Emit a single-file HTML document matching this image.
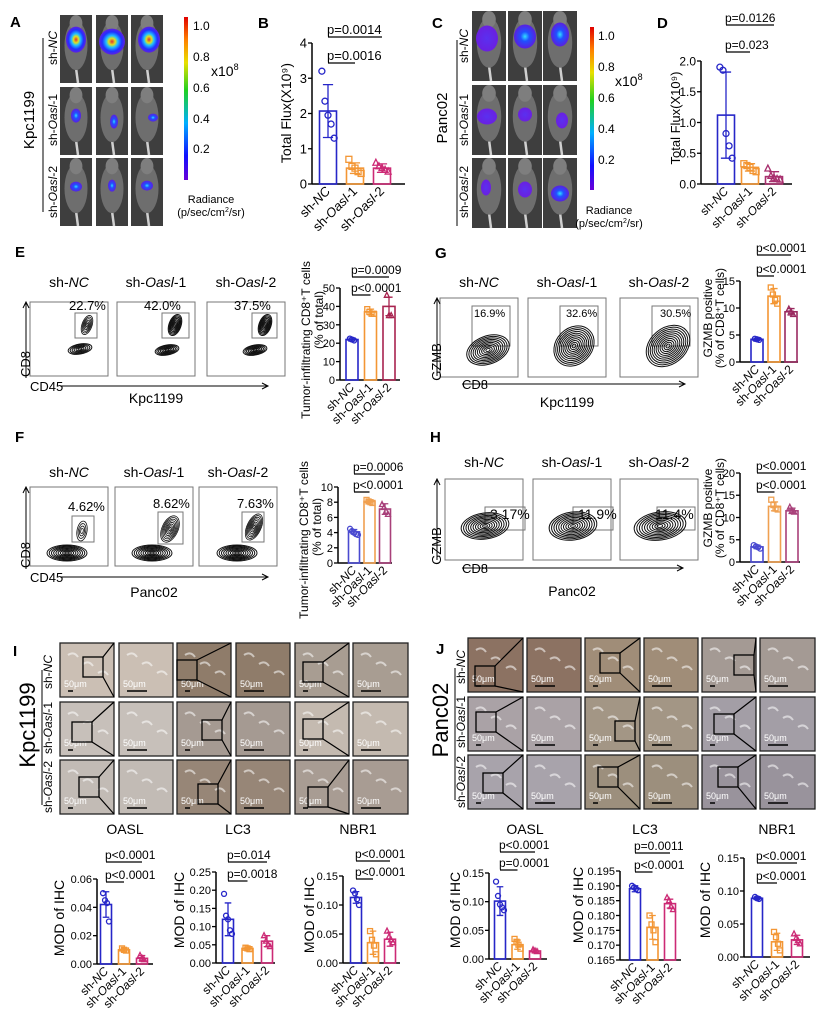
<!DOCTYPE html>
<html><head><meta charset="utf-8">
<style>
html,body{margin:0;padding:0;background:#fff;}
svg{display:block;font-family:"Liberation Sans",Arial,sans-serif;}
</style></head>
<body>
<svg id="fig" width="825" height="1016" viewBox="0 0 825 1016" xmlns="http://www.w3.org/2000/svg">
<defs>
<linearGradient id="cbar" x1="0" y1="1" x2="0" y2="0">
<stop offset="0" stop-color="#6a00d8"/><stop offset="0.15" stop-color="#1010ff"/><stop offset="0.35" stop-color="#00b0ff"/><stop offset="0.55" stop-color="#20d020"/><stop offset="0.72" stop-color="#e8e000"/><stop offset="0.86" stop-color="#ff8000"/><stop offset="1" stop-color="#e00000"/>
</linearGradient>
<radialGradient id="blobA"><stop offset="0" stop-color="#e03030"/><stop offset="0.25" stop-color="#e0e020"/><stop offset="0.45" stop-color="#20c0ff"/><stop offset="0.75" stop-color="#2030ff"/><stop offset="1" stop-color="#6020e0"/></radialGradient>
<radialGradient id="blobB"><stop offset="0" stop-color="#30e0ff"/><stop offset="0.4" stop-color="#2050ff"/><stop offset="1" stop-color="#5a20e0"/></radialGradient>
<radialGradient id="blobC"><stop offset="0" stop-color="#5a30f0"/><stop offset="1" stop-color="#6a20e0"/></radialGradient>
</defs>
<g id="root"></g>
</svg>
<script>
// ---------- chart data ----------
const groups = ["sh-NC","sh-Oasl-1","sh-Oasl-2"];
const bMeans=[2.07,0.45,0.45], bSD=[0.75,0.15,0.12], bPts=[[3.2,2.35,1.95,1.7,1.3],[0.7,0.5,0.45,0.35,0.3],[0.6,0.5,0.45,0.4,0.35]];
const bTicks=[0,1,2,3,4], bTickLabels=["0","1","2","3","4"], bP=["p=0.0016","p=0.0014"];
const dMeans=[1.12,0.27,0.12], dSD=[0.7,0.06,0.08], dPts=[[1.9,1.85,0.82,0.62,0.42],[0.33,0.3,0.27,0.22,0.2],[0.25,0.13,0.1,0.08,0.07]];
const dTicks=[0,0.5,1,1.5,2], dTickLabels=["0.0","0.5","1.0","1.5","2.0"], dP=["p=0.023","p=0.0126"];
const eMeans=[22,37,40], eSD=[0.8,1.5,5], ePts=[[22.5,22,21.5],[38.5,37,36,36],[46,35,35]];
const eTicks=[0,10,20,30,40,50], eTickLabels=["0","10","20","30","40","50"], eP=["p<0.0001","p=0.0009"];
const gMeans=[4.2,12.2,9.3], gSD=[0.2,1.4,0.6], gPts=[[4.3,4.2,4.1],[13.8,12.5,11.5,10.8],[9.8,9.3,8.8]];
const gTicks=[0,5,10,15], gTickLabels=["0","5","10","15"], gP=["p<0.0001","p<0.0001"];
const fMeans=[4.1,8.1,7.1], fSD=[0.3,0.2,0.7], fPts=[[4.5,4.2,4,3.8,3.7],[8.3,8.1,8,7.9],[7.7,7.3,6.8,6.4]];
const fTicks=[0,2,4,6,8,10], fTickLabels=["0","2","4","6","8","10"], fP=["p<0.0001","p=0.0006"];
const hMeans=[3.4,12.5,11.5], hSD=[0.4,1.0,0.6], hPts=[[3.8,3.5,3.3,3],[14,12.8,12,11.8],[12.3,11.5,11.2]];
const hTicks=[0,5,10,15,20], hTickLabels=["0","5","10","15","20"], hP=["p<0.0001","p<0.0001"];
const i1Means=[0.042,0.010,0.004], i1SD=[0.009,0.001,0.002], i1Pts=[[0.05,0.045,0.043,0.03],[0.011,0.01,0.0095],[0.006,0.004,0.003]];
const i1Ticks=[0,0.02,0.04,0.06], i1TickLabels=["0.00","0.02","0.04","0.06"], i1P=["p<0.0001","p<0.0001"];
const i2Means=[0.12,0.04,0.06], i2SD=[0.045,0.003,0.015], i2Pts=[[0.19,0.13,0.12,0.09,0.08],[0.042,0.04,0.038],[0.075,0.06,0.05,0.045]];
const i2Ticks=[0,0.05,0.1,0.15,0.2,0.25], i2TickLabels=["0.00","0.05","0.10","0.15","0.20","0.25"], i2P=["p=0.0018","p=0.014"];
const i3Means=[0.113,0.035,0.041], i3SD=[0.01,0.02,0.012], i3Pts=[[0.125,0.12,0.11,0.1],[0.055,0.04,0.03,0.015],[0.055,0.045,0.04,0.035]];
const i3Ticks=[0,0.05,0.1,0.15], i3TickLabels=["0.00","0.05","0.10","0.15"], i3P=["p<0.0001","p<0.0001"];
const j1Means=[0.101,0.025,0.014], j1SD=[0.025,0.008,0.003], j1Pts=[[0.135,0.11,0.095,0.09,0.085],[0.035,0.03,0.025,0.018],[0.016,0.014,0.013]];
const j1Ticks=[0,0.05,0.1,0.15], j1TickLabels=["0.00","0.05","0.10","0.15"], j1P=["p=0.0001","p<0.0001"];
const j2Means=[0.189,0.176,0.184], j2SD=[0.001,0.004,0.0015], j2Pts=[[0.190,0.1895,0.189,0.1885],[0.180,0.177,0.175,0.171],[0.186,0.185,0.183,0.182]];
const j2Ticks=[0.165,0.17,0.175,0.18,0.185,0.19,0.195], j2TickLabels=["0.165","0.170","0.175","0.180","0.185","0.190","0.195"], j2P=["p<0.0001","p=0.0011"];
const j3Means=[0.089,0.023,0.026], j3SD=[0.002,0.013,0.007], j3Pts=[[0.091,0.089,0.088],[0.038,0.03,0.02,0.01],[0.035,0.028,0.025,0.02]];
const j3Ticks=[0,0.05,0.1,0.15], j3TickLabels=["0.00","0.05","0.10","0.15"], j3P=["p<0.0001","p<0.0001"];
const flowPctE=["22.7%","42.0%","37.5%"], flowPctG=["16.9%","32.6%","30.5%"], flowPctF=["4.62%","8.62%","7.63%"], flowPctH=["3.17%","11.9%","11.4%"];

const NS="http://www.w3.org/2000/svg";
const root=document.getElementById('root');
function mk(tag,attrs,parent){const e=document.createElementNS(NS,tag);for(const k in attrs)e.setAttribute(k,attrs[k]);(parent||root).appendChild(e);return e;}
function txt(x,y,s,size,opts,parent){opts=opts||{};const e=mk('text',{x:x,y:y,'font-size':size,'text-anchor':opts.anchor||'start',fill:opts.fill||'#000','font-weight':opts.bold?'bold':'normal'},parent);if(opts.rot!==undefined)e.setAttribute('transform','rotate('+opts.rot+' '+x+' '+y+')');e.textContent=s;return e;}
function groupLabel(x,y,name,size,rot,parent){
  const e=mk('text',{x:x,y:y,'font-size':size,'text-anchor':'end',transform:'rotate('+rot+' '+x+' '+y+')'},parent);
  const m=name.match(/^sh-(NC|Oasl)(.*)$/);
  const a=document.createElementNS(NS,'tspan');a.textContent='sh-';e.appendChild(a);
  const b=document.createElementNS(NS,'tspan');b.setAttribute('font-style','italic');b.textContent=m[1];e.appendChild(b);
  if(m[2]){const c=document.createElementNS(NS,'tspan');c.textContent=m[2];e.appendChild(c);}
  return e;
}
const COLS=["#2626c8","#f39634","#cc2a75"];

function barChart(id,c,means,sd,pts,ticks,tickLabels,pLabels){
  const g=mk('g',{});
  
  
  const min=c.min||0,max=ticks[ticks.length-1];
  const Y=v=>c.y0-(v-min)/(max-min)*(c.y0-c.yTop);
  const X=i=>c.ax+c.off+i*c.step;
  const yax=mk('line',{x1:c.ax,y1:c.y0,x2:c.ax,y2:c.yTop,stroke:'#000','stroke-width':1.5},g);
  
  
  const xax=mk('line',{x1:c.ax,y1:c.y0,x2:c.xEnd,y2:c.y0,stroke:'#000','stroke-width':1.5},g);
  
  
  ticks.forEach((t,k)=>{
    const tl=mk('line',{x1:c.ax-4,y1:Y(t),x2:c.ax,y2:Y(t),stroke:'#000','stroke-width':1.3},g);
    
    
    const lb=txt(c.ax-5,Y(t)+c.fs*0.36,tickLabels[k],c.fs,{anchor:'end'},g);
    
    
  });
  means.forEach((m,i)=>{
    const col=c.cols?c.cols[i]:COLS[i];
    const x=X(i);
    const bar=mk('rect',{x:x-c.bw/2,y:Y(m),width:c.bw,height:c.y0-Y(m),fill:'none',stroke:col,'stroke-width':1.6},g);
    
    
    const hi=Y(m+sd[i]),lo=Y(Math.max(min,m-sd[i]));
    const eb=mk('path',{d:'M'+x+' '+hi+'V'+lo+'M'+(x-c.bw*0.3)+' '+hi+'H'+(x+c.bw*0.3)+'M'+(x-c.bw*0.3)+' '+lo+'H'+(x+c.bw*0.3),stroke:col,'stroke-width':1.3,fill:'none'},g);
    
    
    const n=pts[i].length;
    pts[i].forEach((v,k)=>{
      const px=x+(k-(n-1)/2)*c.bw*0.18, py=Y(v);
      let p;
      if(i===0)p=mk('circle',{cx:px,cy:py,r:c.mr,fill:'none',stroke:col,'stroke-width':1.3},g);
      else if(i===1)p=mk('rect',{x:px-c.mr,y:py-c.mr,width:2*c.mr,height:2*c.mr,fill:'none',stroke:col,'stroke-width':1.3},g);
      else p=mk('path',{d:'M'+px+' '+(py-c.mr*1.2)+'L'+(px+c.mr)+' '+(py+c.mr*0.8)+'L'+(px-c.mr)+' '+(py+c.mr*0.8)+'Z',fill:'none',stroke:col,'stroke-width':1.3},g);
      
      
    });
    const gl=groupLabel(x+3,c.y0+8,groups[i],c.xfs||c.fs,-45,g);
    
    
  });
  [[1,c.p1],[2,c.p2]].forEach(([j,yy],k)=>{
    const x1=X(0),x2=X(j);
    const l=mk('line',{x1:x1,y1:yy,x2:x2,y2:yy,stroke:'#000','stroke-width':1.3},g);
    
    
    const t=txt(x1-1,yy-3,pLabels[k],c.pfs||c.fs,{},g);
    
    
  });
  c.titles.forEach(tt=>{
    const t=txt(tt[0],tt[1],tt[2],tt[3],{anchor:'middle',rot:-90},g);
    
    
  });
}

[["A",10,27],["B",258,28],["C",432,28],["D",657,28],["E",15,257],["G",435,258],["F",15,442],["H",430,442],["I",13,656],["J",436,654]].forEach(p=>{
  const t=txt(p[1],p[2],p[0],15,{bold:true});
  
  
});

function mouseTile(x,y,w,h,blob,bw,bh,dx,dy){
  const g=mk('g',{});
  
  
  mk('rect',{x:x,y:y,width:w,height:h,fill:'#3e3e3e'},g);
  mk('line',{x1:x+w/2,y1:y+h*0.78,x2:x+w/2+2,y2:y+h,stroke:'#d0d0d0','stroke-width':2.5},g);
  mk('ellipse',{cx:x+w/2,cy:y+h*0.45,rx:w*0.36,ry:h*0.36,fill:'#6e6e6e'},g);
  mk('ellipse',{cx:x+w/2,cy:y+h*0.12,rx:w*0.2,ry:h*0.12,fill:'#7e7e7e'},g);
  mk('ellipse',{cx:x+w/2+dx,cy:y+h*0.45+dy,rx:bw,ry:bh,fill:'url(#'+blob+')'},g);
}
const aCols=[60,96,131], aRows=[15,87,158];
const aBlobs=[["blobA",10,13,0,-6],["blobA",13,13,0,-4],["blobA",11,13,2,-6],["blobB",5,7,0,-2],["blobB",4,7,2,4],["blobB",5,4,6,0],["blobB",6,5,0,-2],["blobB",4,6,0,-3],["blobB",6,5,0,-3]];
aRows.forEach((ry,r)=>aCols.forEach((cx,cc)=>{const b=aBlobs[r*3+cc];mouseTile(cx,ry,32,68,b[0],b[1],b[2],b[3],b[4]);}));
const cCols=[472,508,543], cRows=[11,85,158];
const cBlobs=[["blobC",11,13,-2,-4],["blobB",11,12,0,-6],["blobB",9,12,0,-8],["blobC",10,8,-2,0],["blobC",7,7,0,-2],["blobC",6,8,2,4],["blobC",5,8,-3,-2],["blobC",7,8,0,0],["blobB",9,8,0,4]];
cRows.forEach((ry,r)=>cCols.forEach((cx,cc)=>{const b=cBlobs[r*3+cc];mouseTile(cx,ry,34,70,b[0],b[1],b[2],b[3],b[4]);}));

function sideLabels(bigX,bigY,big,bigSize,lineX,ly1,ly2,rowX,rowYs,prefix){
  const t=txt(bigX,bigY,big,bigSize,{anchor:'middle',rot:-90});
  
  
  const l=mk('line',{x1:lineX,y1:ly1,x2:lineX,y2:ly2,stroke:'#000','stroke-width':1});
  
  
  rowYs.forEach((ry,i)=>{
    const e=mk('text',{x:rowX,y:ry,'font-size':12,'text-anchor':'middle',transform:'rotate(-90 '+rowX+' '+ry+')'});
    const m=groups[i].match(/^sh-(NC|Oasl)(.*)$/);
    const a=document.createElementNS(NS,'tspan');a.textContent='sh-';e.appendChild(a);
    const b=document.createElementNS(NS,'tspan');b.setAttribute('font-style','italic');b.textContent=m[1];e.appendChild(b);
    if(m[2]){const c=document.createElementNS(NS,'tspan');c.textContent=m[2];e.appendChild(c);}
    
    
  });
}
sideLabels(34,120,"Kpc1199",15,43,38,212,57,[48,120,192],'a');
sideLabels(447,118,"Panc02",15,457,40,226,468,[46,120,192],'c');

function colorbar(x,y1,y2,labX,labYs,xlabX,xlabY,radX,radY,prefix){
  const r=mk('rect',{x:x,y:y1,width:4,height:y2-y1,fill:'url(#cbar)'});
  
  
  ["1.0","0.8","0.6","0.4","0.2"].forEach((s,i)=>{const t=txt(labX,labYs[i],s,12);});
  const xl=mk('text',{x:xlabX,y:xlabY,'font-size':14});
  xl.innerHTML='x10<tspan font-size="9" dy="-6">8</tspan>';
  
  
  const r1=txt(radX,radY,"Radiance",11,{anchor:'middle'});
  
  
  const r2=mk('text',{x:radX,y:radY+13,'font-size':11,'text-anchor':'middle'});
  r2.innerHTML='(p/sec/cm<tspan font-size="7" dy="-4">2</tspan><tspan dy="4">/sr)</tspan>';
  
  
}
colorbar(184,17,180,193,[30,61,92,123,153],211,76,211,203,'a');
colorbar(590,27,190,598,[40,71,102,133,164],615,86,609,214,'c');

function contours(g,cx,cy,rx,ry,rot,n,dense){
  for(let k=0;k<n;k++){const f=1-k/n;
    mk('ellipse',{cx:cx,cy:cy,rx:rx*f,ry:ry*f,fill:'none',stroke:'#111','stroke-width':dense?1.0:0.8,transform:'rotate('+rot+' '+cx+' '+cy+')'},g);}
}
function flowRow(prefix,boxes,y1,y2,titleY,pcts,gates,pops,xlab,xlabY,ylab,xlabAxis,arrowY,arrowX2,vx,vTop){
  boxes.forEach((b,i)=>{
    const g=mk('g',{});
    
    
    mk('rect',{x:b,y:y1,width:78,height:y2-y1,fill:'#fff',stroke:'#777','stroke-width':1},g);
    const t=mk('text',{x:b+39,y:titleY,'font-size':14,'text-anchor':'middle'},g);
    const m=groups[i].match(/^sh-(NC|Oasl)(.*)$/);
    t.innerHTML='sh-<tspan font-style="italic">'+m[1]+'</tspan>'+(m[2]||'');
    const gt=gates[i];
    const gr=mk('rect',{x:b+gt[0],y:y1+gt[1],width:gt[2],height:gt[3],fill:'none',stroke:'#777','stroke-width':1},g);
    
    
    const pt=txt(b+gt[4],y1+gt[5],pcts[i],gt[6],{},g);
    
    
    pops[i].forEach(p=>contours(g,b+p[0],y1+p[1],p[2],p[3],p[4],p[5],p[6]));
  });
  const ax=mk('path',{d:'M'+vx+' '+(arrowY-8)+'V'+vTop+'M'+(vx-3)+' '+(vTop+6)+'L'+vx+' '+vTop+'L'+(vx+3)+' '+(vTop+6),stroke:'#000',fill:'none','stroke-width':1});
  
  
  const hx=mk('path',{d:'M'+(xlabAxis[1])+' '+arrowY+'H'+arrowX2+'M'+(arrowX2-6)+' '+(arrowY-3)+'L'+arrowX2+' '+arrowY+'L'+(arrowX2-6)+' '+(arrowY+3),stroke:'#000',fill:'none','stroke-width':1});
  
  
  const yl=txt(vx+4,arrowY-22,ylab,13,{anchor:'middle',rot:-90});
  
  
  const xl=txt(xlabAxis[0],arrowY+5,xlabAxis[2],13,{});
  
  
  const cl=txt(boxes[1]+39,xlabY,xlab,14,{anchor:'middle'});
  
  
}
flowRow('e',[30,117,207],302,376,287,flowPctE,
  [[45,11,22,25,39,8,13],[45,11,27,25,27,8,13],[45,11,25,25,27,8,13]],
  [[[57,23,5,10,20,6],[50,47,12,5,-10,6,true]],[[58,23,6,11,20,8,true],[50,48,12,5,-10,7,true]],[[58,23,6,11,20,8,true],[48,48,12,5,-10,7,true]]],
  "Kpc1199",403,"CD8",[30,60,"CD45"],386,268,26,302);
flowRow('g',[440,528,620],298,377,287,flowPctG,
  [[32,8,38,40,34,19,11],[32,8,38,40,38,19,11],[32,8,38,40,40,19,11]],
  [[[48,52,22,14,-20,10,true]],[[46,48,22,18,-45,11,true]],[[48,48,24,18,-40,11,true]]],
  "Kpc1199",407,"GZMB",[462,462,"CD8"],384,685,437,298);
flowRow('f',[30,115,199],487,566,477,flowPctF,
  [[42,29,22,26,38,24,13],[43,25,25,32,38,21,13],[43,25,22,30,38,21,13]],
  [[[52,44,5,10,10,4],[37,66,20,8,0,9,true]],[[55,42,8,14,25,8],[37,66,20,8,0,9,true]],[[55,40,7,14,25,8],[38,66,20,8,0,9,true]]],
  "Panc02",597,"CD8",[30,60,"CD45"],577,268,26,487);
flowRow('h',[445,533,620],479,560,467,flowPctH,
  [[40,28,40,23,45,40,14],[40,28,40,23,45,40,14],[37,28,38,23,35,40,14]],
  [[[40,47,24,13,-8,10,true]],[[40,47,24,14,-8,10,true]],[[40,47,26,14,-8,10,true]]],
  "Panc02",596,"GZMB",[462,462,"CD8"],568,683,437,479);

function ihc(prefix,cols,rows,colors,insets){
  rows.forEach((ry,r)=>cols.forEach((cx,c)=>{
    const g=mk('g',{});
    
    
    const col=colors[r][Math.floor(c/2)];
    mk('rect',{x:cx[0],y:ry,width:cx[1]-cx[0],height:54,fill:col,stroke:'#222','stroke-width':1.3},g);
    for(let k=0;k<3;k++)mk('path',{d:'M'+(cx[0]+8+k*15)+' '+(ry+12+k*9)+'q6 -4 10 2',stroke:'rgba(255,255,255,0.55)','stroke-width':2,fill:'none'},g);
    txt(cx[0]+4,ry+44,"50μm",9,{fill:'#fff'},g);
    mk('line',{x1:cx[0]+8,y1:ry+48,x2:cx[0]+(c%2?28:13),y2:ry+48,stroke:'#000','stroke-width':1.5},g);
    if(c%2===0){const ins=insets[r][c/2];
      mk('rect',{x:cx[0]+ins[0],y:ry+ins[1],width:20,height:20,fill:'none',stroke:'#000','stroke-width':1.3},g);
      mk('path',{d:'M'+(cx[0]+ins[0]+20)+' '+(ry+ins[1])+'L'+cx[1]+' '+ry+'M'+(cx[0]+ins[0]+20)+' '+(ry+ins[1]+20)+'L'+cx[1]+' '+(ry+54),stroke:'#000','stroke-width':1.2},g);}
  }));
}
ihc('i',[[60,114],[119,173],[177,231],[236,290],[295,349],[353,408]],[643,702,760],
  [["#cbbfb4","#8f7c6a","#a89d92"],["#c7c0ba","#a59a92","#c4bab0"],["#c2bbb5","#978677","#a89c93"]],
  [[[23,14],[0,17],[8,19]],[[12,20],[25,18],[8,17]],[[19,17],[21,24],[13,27]]]);
ihc('j',[[468,523],[527,581],[585,640],[644,698],[702,756],[760,815]],[638,697,755],
  [["#8c7262","#a08d78","#a49a94"],["#aaa2a6","#a39685","#a39ea6"],["#a8a3ab","#9c8f7d","#99939c"]],
  [[[7,28],[15,15],[32,17]],[[8,15],[30,24],[12,17]],[[15,18],[13,12],[16,12]]]);
sideLabels(35,725,"Kpc1199",22,42,670,805,52,[672,728,787],'i');
sideLabels(448,720,"Panc02",22,455,668,800,465,[667,722,782],'j');
[["OASL",125],["LC3",238],["NBR1",358],["OASL",525],["LC3",645],["NBR1",777]].forEach(p=>{
  const t=txt(p[1],834,p[0],14,{anchor:'middle'});
  
  
});

barChart('chart-b',{ax:312,y0:184,yTop:43,off:16,step:27,bw:17,xEnd:405,fs:13,mr:3,p1:63,p2:37,titles:[[291,113,"Total Flux(X10⁹)",14]]},bMeans,bSD,bPts,bTicks,bTickLabels,bP);
barChart('chart-d',{ax:701,y0:184,yTop:61,off:25,step:24,bw:17,xEnd:792,fs:12,mr:3,p1:52,p2:25,titles:[[680,118,"Total Flux(X10⁹)",13]],cols:["#2626c8","#f39634","#a8306e"]},dMeans,dSD,dPts,dTicks,dTickLabels,dP);
barChart('chart-e',{ax:340,y0:380,yTop:288,off:12,step:18.5,bw:12,xEnd:400,fs:11,xfs:12,pfs:12,mr:2.5,p1:295,p2:277,titles:[[310,340,"Tumor-infiltrating CD8⁺T cells",12],[323,320,"(% of total)",12]],cols:["#2626c8","#f39634","#a8234f"]},eMeans,eSD,ePts,eTicks,eTickLabels,eP);
barChart('chart-g',{ax:740,y0:362,yTop:281,off:17,step:17,bw:12,xEnd:798,fs:11,xfs:12,pfs:12,mr:2.5,p1:276,p2:255,titles:[[712,318,"GZMB positive",12],[724,318,"(% of  CD8⁺T cells)",12]],cols:["#2626c8","#f39634","#9a2a60"]},gMeans,gSD,gPts,gTicks,gTickLabels,gP);
barChart('chart-f',{ax:338,y0:563,yTop:487,off:16,step:15.5,bw:11,xEnd:392,fs:11,xfs:12,pfs:12,mr:2.5,p1:492,p2:474,titles:[[308,540,"Tumor-infiltrating CD8⁺T cells",12],[321,527,"(% of total)",12]],cols:["#4a4ad0","#f0a050","#a8407a"]},fMeans,fSD,fPts,fTicks,fTickLabels,fP);
barChart('chart-h',{ax:740,y0:562,yTop:473,off:17,step:17.5,bw:12,xEnd:800,fs:11,xfs:12,pfs:12,mr:2.5,p1:492,p2:473,titles:[[712,508,"GZMB positive",12],[724,508,"(% of  CD8⁺T cells)",12]],cols:["#4a4ad0","#f0a050","#a8407a"]},hMeans,hSD,hPts,hTicks,hTickLabels,hP);
const mt="MOD of IHC";
barChart('chart-i-oasl',{ax:97,y0:964,yTop:879,off:9,step:18,bw:11,xEnd:153,fs:11,xfs:12,pfs:12,mr:2.5,p1:882,p2:862,titles:[[64,918,mt,14]]},i1Means,i1SD,i1Pts,i1Ticks,i1TickLabels,i1P);
barChart('chart-i-lc3',{ax:216,y0:963,yTop:872,off:12,step:19.5,bw:11,xEnd:275,fs:11,xfs:12,pfs:12,mr:2.5,p1:881,p2:862,titles:[[184,910,mt,14]]},i2Means,i2SD,i2Pts,i2Ticks,i2TickLabels,i2P);
barChart('chart-i-nbr1',{ax:343,y0:963,yTop:876,off:13,step:17,bw:11,xEnd:400,fs:11,xfs:12,pfs:12,mr:2.5,p1:879,p2:861,titles:[[314,915,mt,14]]},i3Means,i3SD,i3Pts,i3Ticks,i3TickLabels,i3P);
barChart('chart-j-oasl',{ax:489,y0:959,yTop:873,off:11,step:17.5,bw:11,xEnd:547,fs:11,xfs:12,pfs:12,mr:2.5,p1:870,p2:852,titles:[[460,910,mt,14]]},j1Means,j1SD,j1Pts,j1Ticks,j1TickLabels,j1P);
barChart('chart-j-lc3',{ax:620,y0:960,yTop:871,min:0.165,off:15,step:17.5,bw:11,xEnd:681,fs:11,xfs:12,pfs:12,mr:2.5,p1:872,p2:853,titles:[[583,905,mt,14]]},j2Means,j2SD,j2Pts,j2Ticks,j2TickLabels,j2P);
barChart('chart-j-nbr1',{ax:744,y0:957,yTop:858,off:13,step:20,bw:11,xEnd:810,fs:11,xfs:12,pfs:12,mr:2.5,p1:883,p2:863,titles:[[710,900,mt,14]]},j3Means,j3SD,j3Pts,j3Ticks,j3TickLabels,j3P);
</script>
</body></html>
